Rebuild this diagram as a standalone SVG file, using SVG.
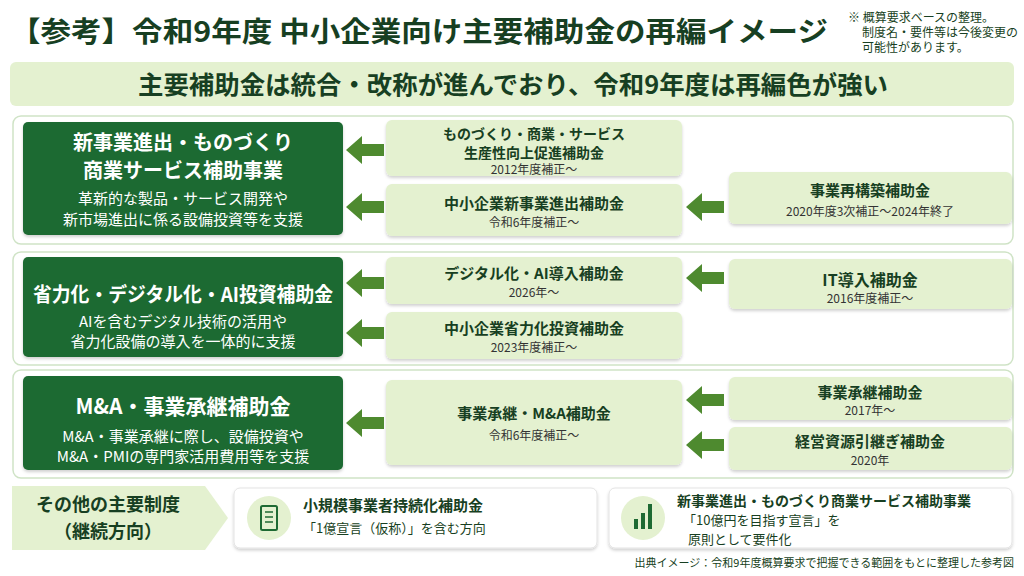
<svg xmlns="http://www.w3.org/2000/svg" width="1024" height="576" viewBox="0 0 1024 576">
<style>
text{font-family:"Noto Sans CJK JP","Noto Sans",sans-serif;fill:#173f22}
.b{font-weight:700}
.w{fill:#fff}
.mid{text-anchor:middle}
.dark{fill:#1e6a33}
.lite{fill:#e4f1d0}
.panel{fill:#fff;stroke:#cfe3c6;stroke-width:1.5}
.arr{fill:#4e8a2f}
.sub{font-size:12px;fill:#333}
</style>
<defs>
<filter id="sh" x="-5%" y="-5%" width="110%" height="120%"><feDropShadow dx="0" dy="2" stdDeviation="1.5" flood-color="#000" flood-opacity="0.18"/></filter>
<polygon id="ar" points="0,0 16,-14 16,-6 38,-6 38,6 16,6 16,14"/>
</defs>
<rect width="1024" height="576" fill="#fff"/>
<text x="10" y="42" class="b" font-size="28" fill="#143d20" textLength="818" lengthAdjust="spacingAndGlyphs">【参考】令和9年度 中小企業向け主要補助金の再編イメージ</text>
<text x="848" y="22" font-size="12" fill="#222">※ 概算要求ベースの整理。</text>
<text x="862" y="37" font-size="12" fill="#222">制度名・要件等は今後変更の</text>
<text x="862" y="52" font-size="12" fill="#222">可能性があります。</text>
<rect x="10" y="62" width="1004" height="44" rx="6" class="lite"/>
<text x="513" y="94" class="b mid" font-size="25" textLength="750" lengthAdjust="spacingAndGlyphs">主要補助金は統合・改称が進んでおり、令和9年度は再編色が強い</text>

<rect x="13" y="116" width="1000" height="128" rx="8" class="panel"/>
<rect x="13" y="252" width="1000" height="113" rx="8" class="panel"/>
<rect x="13" y="370" width="1000" height="108" rx="8" class="panel"/>

<g id="connectors" class="arr">
<use href="#ar" x="346" y="150"/>
<use href="#ar" x="346" y="207"/>
<use href="#ar" x="686" y="207"/>
<use href="#ar" x="346" y="283"/>
<use href="#ar" x="346" y="333"/>
<use href="#ar" x="686" y="278"/>
<use href="#ar" x="346" y="423"/>
<use href="#ar" x="686" y="400"/>
<use href="#ar" x="686" y="445"/>
</g>

<g id="n1">
<rect x="23" y="122" width="320" height="113" rx="5" class="dark" filter="url(#sh)"/>
<text x="183" y="150" class="b w mid" font-size="20">新事業進出・ものづくり</text>
<text x="183" y="178" class="b w mid" font-size="20">商業サービス補助事業</text>
<text x="183" y="204" class="w mid" font-size="15">革新的な製品・サービス開発や</text>
<text x="183" y="225" class="w mid" font-size="15">新市場進出に係る設備投資等を支援</text>
</g>
<g id="n2">
<rect x="386" y="120" width="296" height="56" rx="6" class="lite" filter="url(#sh)"/>
<text x="534" y="139" class="b mid" font-size="14">ものづくり・商業・サービス</text>
<text x="534" y="158" class="b mid" font-size="14">生産性向上促進補助金</text>
<text x="534" y="174" class="mid sub">2012年度補正～</text>
</g>
<g id="n3">
<rect x="386" y="184" width="296" height="52" rx="6" class="lite" filter="url(#sh)"/>
<text x="534" y="209" class="b mid" font-size="15">中小企業新事業進出補助金</text>
<text x="534" y="227" class="mid sub">令和6年度補正～</text>
</g>
<g id="n4">
<rect x="729" y="172" width="283" height="52" rx="6" class="lite" filter="url(#sh)"/>
<text x="870" y="196" class="b mid" font-size="15">事業再構築補助金</text>
<text x="870" y="216" class="mid sub">2020年度3次補正～2024年終了</text>
</g>

<g id="n5">
<rect x="23" y="257" width="320" height="100" rx="5" class="dark" filter="url(#sh)"/>
<text x="183" y="302" class="b w mid" font-size="20" textLength="300" lengthAdjust="spacingAndGlyphs">省力化・デジタル化・AI投資補助金</text>
<text x="183" y="327" class="w mid" font-size="15">AIを含むデジタル技術の活用や</text>
<text x="183" y="347" class="w mid" font-size="15">省力化設備の導入を一体的に支援</text>
</g>
<g id="n6">
<rect x="386" y="257" width="296" height="47" rx="6" class="lite" filter="url(#sh)"/>
<text x="534" y="279" class="b mid" font-size="15">デジタル化・AI導入補助金</text>
<text x="534" y="297" class="mid sub">2026年～</text>
</g>
<g id="n7">
<rect x="386" y="312" width="296" height="47" rx="6" class="lite" filter="url(#sh)"/>
<text x="534" y="334" class="b mid" font-size="15">中小企業省力化投資補助金</text>
<text x="534" y="352" class="mid sub">2023年度補正～</text>
</g>
<g id="n8">
<rect x="729" y="259" width="283" height="50" rx="6" class="lite" filter="url(#sh)"/>
<text x="870" y="286" class="b mid" font-size="16">IT導入補助金</text>
<text x="870" y="303" class="mid sub">2016年度補正～</text>
</g>

<g id="n9">
<rect x="23" y="376" width="320" height="94" rx="5" class="dark" filter="url(#sh)"/>
<text x="183" y="414" class="b w mid" font-size="21">M&amp;A・事業承継補助金</text>
<text x="183" y="442" class="w mid" font-size="15">M&amp;A・事業承継に際し、設備投資や</text>
<text x="183" y="462" class="w mid" font-size="15">M&amp;A・PMIの専門家活用費用等を支援</text>
</g>
<g id="n10">
<rect x="386" y="380" width="296" height="85" rx="6" class="lite" filter="url(#sh)"/>
<text x="534" y="419" class="b mid" font-size="15">事業承継・M&amp;A補助金</text>
<text x="534" y="440" class="mid sub">令和6年度補正～</text>
</g>
<g id="n11">
<rect x="729" y="377" width="283" height="43" rx="6" class="lite" filter="url(#sh)"/>
<text x="870" y="398" class="b mid" font-size="15">事業承継補助金</text>
<text x="870" y="415" class="mid sub">2017年～</text>
</g>
<g id="n12">
<rect x="729" y="427" width="283" height="43" rx="6" class="lite" filter="url(#sh)"/>
<text x="870" y="447" class="b mid" font-size="15">経営資源引継ぎ補助金</text>
<text x="870" y="465" class="mid sub">2020年</text>
</g>

<g id="n13">
<polygon points="12,486 205,486 228,518 205,550 12,550" class="lite"/>
<text x="108" y="511" class="b mid" font-size="18">その他の主要制度</text>
<text x="108" y="538" class="b mid" font-size="18">（継続方向）</text>
</g>
<g id="n14">
<rect x="234" y="488" width="363" height="60" rx="6" fill="#fff" stroke="#e3e3e3" filter="url(#sh)"/>
<circle cx="269" cy="518" r="22" class="lite"/>
<rect x="261" y="506" width="16" height="24" rx="1.5" fill="none" stroke="#1e6a33" stroke-width="2"/>
<path d="M265 512h8M265 517h8M265 522h8" stroke="#1e6a33" stroke-width="1.5"/>
<text x="303" y="511" class="b" font-size="15">小規模事業者持続化補助金</text>
<text x="303" y="533" font-size="13" fill="#333">「1億宣言（仮称）」を含む方向</text>
</g>
<g id="n15">
<rect x="609" y="488" width="403" height="60" rx="6" fill="#fff" stroke="#e3e3e3" filter="url(#sh)"/>
<circle cx="643" cy="518" r="22" class="lite"/>
<rect x="634" y="519" width="4" height="10" fill="#1e6a33"/>
<rect x="641" y="513" width="4" height="16" fill="#1e6a33"/>
<rect x="648" y="504" width="4" height="25" fill="#1e6a33"/>
<text x="677" y="506" class="b" font-size="14">新事業進出・ものづくり商業サービス補助事業</text>
<text x="683" y="525" font-size="13" fill="#333">「10億円を目指す宣言」を</text>
<text x="688" y="544" font-size="13" fill="#333">原則として要件化</text>
</g>
<text x="1014" y="567" text-anchor="end" font-size="11" fill="#333">出典イメージ：令和9年度概算要求で把握できる範囲をもとに整理した参考図</text>
</svg>
